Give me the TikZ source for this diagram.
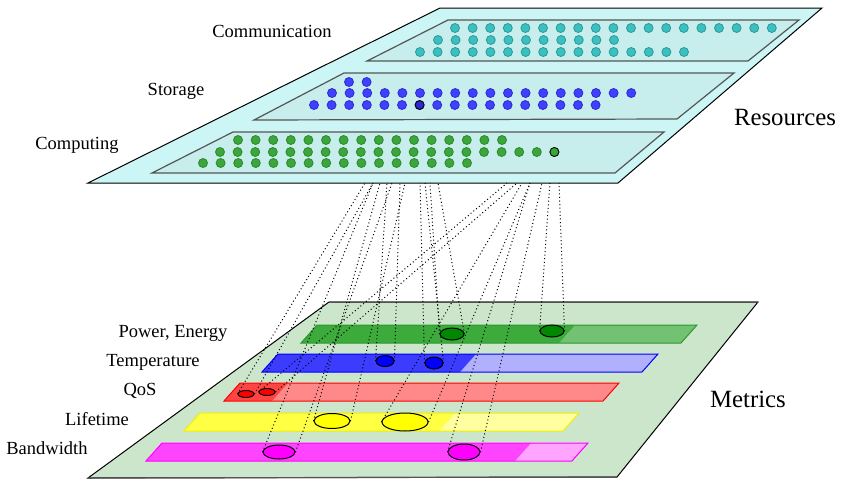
\documentclass[tikz,border=0pt]{standalone}
\usepackage{fontspec}
\setmainfont{Liberation Serif}
\usetikzlibrary{shapes.geometric}
\definecolor{resbg}{HTML}{CCF5F5}
\definecolor{stripbg}{HTML}{C8EDED}
\definecolor{stripline}{HTML}{555555}
\definecolor{metbg}{HTML}{CCE6CC}
\definecolor{comfill}{HTML}{3CBFBF}
\definecolor{comline}{HTML}{2A9A9A}
\definecolor{stofill}{HTML}{4040FF}
\definecolor{stoline}{HTML}{2A2AD0}
\definecolor{cpufill}{HTML}{3CA63C}
\definecolor{cpuline}{HTML}{2A8A2A}
\definecolor{pwdark}{HTML}{3CAB3C}
\definecolor{pwlight}{HTML}{73C173}
\definecolor{pwline}{HTML}{2A9A2A}
\definecolor{pwell}{HTML}{008800}
\definecolor{tpdark}{HTML}{3C3CFF}
\definecolor{tplight}{HTML}{B0B0FF}
\definecolor{tpline}{HTML}{0000FF}
\definecolor{tpell}{HTML}{0000FF}
\definecolor{qsdark}{HTML}{FF4444}
\definecolor{qslight}{HTML}{FF8888}
\definecolor{qsline}{HTML}{FF0000}
\definecolor{qsell}{HTML}{FF0000}
\definecolor{lfdark}{HTML}{FFFF44}
\definecolor{lflight}{HTML}{FFFFA0}
\definecolor{lfline}{HTML}{F0F000}
\definecolor{lfell}{HTML}{FFFF00}
\definecolor{bwdark}{HTML}{FF44FF}
\definecolor{bwlight}{HTML}{FFA4FF}
\definecolor{bwline}{HTML}{FF00FF}
\definecolor{bwell}{HTML}{FF00FF}
\tikzset{
	com/.style={fill=comfill,draw=comline,line width=0.8pt},
	sto/.style={fill=stofill,draw=stoline,line width=0.8pt},
	cpu/.style={fill=cpufill,draw=cpuline,line width=0.8pt}
}
\newcommand{\drawrow}[4]{
	\foreach \k in {1,...,#3} \draw[#4] (#1+17.6*\k-17.6,#2) circle (4.5pt);
}
\newcommand{\drawbar}[5]{
	\fill[#5light] (#3,#1) -- (#4,#1) -- (#4-16,#1+18) -- (#3-16,#1+18) -- cycle;
	\fill[#5dark] (#2,#1) -- (#3,#1) -- (#3-16,#1+18) -- (#2-16,#1+18) -- cycle;
	\draw[#5line,line width=1pt] (#2,#1) -- (#4,#1) -- (#4-16,#1+18) -- (#2-16,#1+18) -- cycle;
}

\begin{document}
\begin{tikzpicture}[x=1pt,y=-1pt,
	lbl/.style={anchor=base,font=\fontsize{18.5}{20}\selectfont},
	big/.style={anchor=base,font=\fontsize{24.8}{28}\selectfont},
	spot/.style={ellipse,draw=black,line width=1pt,inner sep=0pt},
	link/.style={line width=1pt,dash pattern=on 1pt off 2.6pt}]
	\useasboundingbox (0,0) rectangle (841,480);
	\filldraw[fill=resbg,draw=black,line width=1pt] (88,183) -- (618,183) -- (822,8) -- (440,8) -- cycle;
	\filldraw[fill=stripbg,draw=stripline,line width=1.2pt] (367,61) -- (748,61) -- (799,20) -- (448,20) -- cycle;
	\filldraw[fill=stripbg,draw=stripline,line width=1.2pt] (254,120) -- (677,119) -- (734,73) -- (344,73) -- cycle;
	\filldraw[fill=stripbg,draw=stripline,line width=1.2pt] (152,173) -- (615,173) -- (664,132) -- (233,132) -- cycle;
	\drawrow{455}{28}{19}{com}
	\drawrow{438}{40}{11}{com}
	\drawrow{420}{52}{16}{com}
	\drawrow{349}{82}{2}{sto}
	\drawrow{332}{93}{18}{sto}
	\drawrow{314}{105}{17}{sto}
	\draw[sto,fill=stoline,draw=black] (419.6,105) circle (4.5pt);
	\drawrow{238}{140}{16}{cpu}
	\drawrow{220}{152}{20}{cpu}
	\draw[cpu,draw=black] (554.4,152) circle (4.5pt);
	\drawrow{203}{163}{16}{cpu}
	\node[lbl] (comlbl) at (272,37.5) {Communication};
	\node[lbl] (stolbl) at (176,95) {Storage};
	\node[lbl] (cpulbl) at (77,149) {Computing};
	\node[big] (reslbl) at (785,125) {Resources};
	\filldraw[fill=metbg,draw=black,line width=1pt] (88,478) -- (617,477) -- (758,302) -- (329,302) -- cycle;
	\draw[stripline,line width=1.2pt] (329,302) -- (758,302) (88,478) -- (617,477);
	\drawbar{325}{317}{575}{697}{pw}
	\drawbar{354}{278}{476}{658}{tp}
	\drawbar{383}{240}{288}{619}{qs}
	\drawbar{413}{200}{455}{579}{lf}
	\drawbar{443}{162}{531}{588}{bw}
	\node[lbl] (pwlbl) at (173,337) {Power, Energy};
	\node[lbl] (tplbl) at (153,366) {Temperature};
	\node[lbl] (qslbl) at (140,395) {QoS};
	\node[lbl] (lflbl) at (97,425) {Lifetime};
	\node[lbl] (bwlbl) at (47,454) {Bandwidth};
	\node[big] (metlbl) at (748,407) {Metrics};
	\node[spot,fill=pwell,minimum width=24pt,minimum height=12pt] (pw1) at (452,334) {};
	\node[spot,fill=pwell,minimum width=24pt,minimum height=12pt] (pw2) at (552,331) {};
	\node[spot,fill=tpell,minimum width=18pt,minimum height=11pt] (tp1) at (385,361) {};
	\node[spot,fill=tpell,minimum width=18pt,minimum height=12pt] (tp2) at (434,363) {};
	\node[spot,fill=qsell,minimum width=16pt,minimum height=7pt] (qs1) at (246,394) {};
	\node[spot,fill=qsell,minimum width=16pt,minimum height=7pt] (qs2) at (267,392) {};
	\node[spot,fill=lfell,minimum width=36pt,minimum height=15pt] (lf1) at (332,421) {};
	\node[spot,fill=lfell,minimum width=46pt,minimum height=18pt] (lf2) at (405,422) {};
	\node[spot,fill=bwell,minimum width=32pt,minimum height=14pt] (bw1) at (279,452) {};
	\node[spot,fill=bwell,minimum width=32pt,minimum height=16pt] (bw2) at (464,452) {};
	\foreach \e/\l/\r in {pw1/430/438,pw2/550/559,tp1/387/400,tp2/420/425,qs1/365/373,
		qs2/507/517,lf1/380/405,lf2/522/530,bw1/373/392,bw2/530/542} {
		\coordinate (\e-l) at (\l,183);
		\coordinate (\e-r) at (\r,183);
		\draw[link] (\e.west) -- (\e-l) (\e.east) -- (\e-r);
	}
\end{tikzpicture}
\end{document}
